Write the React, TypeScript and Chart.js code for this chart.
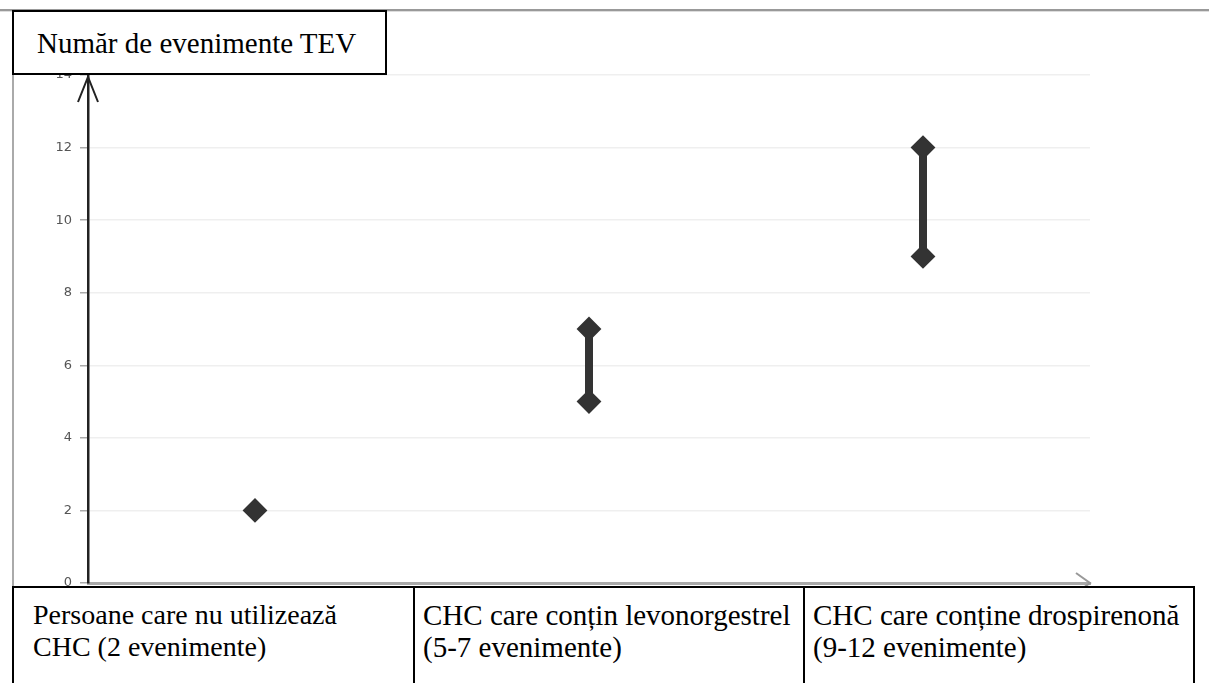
import React, { useEffect, useRef } from "react";
import { Chart, registerables } from "chart.js";

Chart.register(...registerables);

// ---- Data ----
const titleText = "Număr de evenimente TEV";
const categoryLines: string[][] = [
  ["Persoane care nu utilizează", "CHC (2 evenimente)"],
  ["CHC care conțin levonorgestrel", "(5-7 evenimente)"],
  ["CHC care conține drospirenonă", "(9-12 evenimente)"],
];
const categoryPositions = [0.5, 1.5, 2.5];
const lowValues = [2, 5, 9];
const highValues = [2, 7, 12];
const yMin = 0;
const yMax = 14;
const yStep = 2;

const DARK = "#333333";

const arrowPlugin = {
  id: "axisArrows",
  afterDraw(chart: any) {
    const { ctx, chartArea } = chart;
    const { left, right, top, bottom } = chartArea;
    ctx.save();
    // y axis arrow
    ctx.strokeStyle = "#222";
    ctx.lineWidth = 2;
    ctx.beginPath();
    ctx.moveTo(left - 10, top + 27);
    ctx.lineTo(left, top + 2);
    ctx.lineTo(left + 10, top + 27);
    ctx.stroke();
    // x axis arrow
    ctx.strokeStyle = "#999";
    ctx.lineWidth = 2;
    ctx.beginPath();
    ctx.moveTo(right - 14, bottom - 10);
    ctx.lineTo(right, bottom);
    ctx.lineTo(right - 14, bottom + 10);
    ctx.stroke();
    ctx.restore();
  },
};

function RangeChart() {
  const ref = useRef<HTMLCanvasElement | null>(null);
  useEffect(() => {
    if (!ref.current) return;
    const datasets = categoryPositions.map((x, i) => {
      const pts =
        lowValues[i] === highValues[i]
          ? [{ x, y: lowValues[i] }]
          : [
              { x, y: lowValues[i] },
              { x, y: highValues[i] },
            ];
      return {
        label: categoryLines[i].join(" "),
        data: pts,
        borderColor: DARK,
        backgroundColor: DARK,
        borderWidth: 8,
        pointStyle: "rectRot" as const,
        pointRadius: 11,
        pointBorderWidth: 2,
        pointBackgroundColor: DARK,
        pointBorderColor: DARK,
        showLine: true,
      };
    });
    const chart = new Chart(ref.current, {
      type: "scatter",
      data: { datasets },
      options: {
        animation: false,
        responsive: false,
        maintainAspectRatio: false,
        layout: { padding: { left: 0, right: 119, top: 75, bottom: 90 } },
        plugins: {
          legend: { display: false },
          tooltip: { enabled: false },
          title: { display: false },
        },
        scales: {
          x: {
            type: "linear",
            min: 0,
            max: 3,
            ticks: { display: false, stepSize: 1 },
            grid: { display: false },
            border: { display: true, color: "#aaaaaa", width: 3 },
            afterFit(s: any) {
              s.height = 10;
            },
          },
          y: {
            type: "linear",
            min: yMin,
            max: yMax,
            ticks: {
              stepSize: yStep,
              color: "#555",
              padding: 8,
              font: { family: "'DejaVu Sans', sans-serif", size: 13 },
            },
            grid: {
              color: "#efefef",
              tickColor: "#aaaaaa",
              tickLength: 8,
              lineWidth: 1.5,
            },
            border: { display: true, color: "#222", width: 2.5 },
            afterFit(s: any) {
              s.width = 88;
            },
          },
        },
      },
      plugins: [arrowPlugin],
    });
    return () => chart.destroy();
  }, []);
  return (
    <canvas
      ref={ref}
      width={1209}
      height={683}
      style={{ position: "absolute", left: 0, top: 0, width: 1209, height: 683 }}
    />
  );
}

const serif = "'Liberation Serif', 'Times New Roman', 'DejaVu Serif', serif";

const boxes = [
  { left: 12, right: 415, textLeft: 33, size: 28 },
  { left: 413, right: 805, textLeft: 423, size: 29 },
  { left: 803, right: 1195, textLeft: 813, size: 29 },
];

export default function App() {
  return (
    <div
      style={{
        position: "fixed",
        left: 0,
        top: 0,
        width: 1209,
        height: 683,
        overflow: "hidden",
        background: "#fff",
      }}
    >
      {/* screenshot frame lines */}
      <div style={{ position: "absolute", left: 0, top: 9, width: 1209, height: 2, background: "#999" }} />
      <div style={{ position: "absolute", left: 0, top: 11, width: 1209, height: 1, background: "#ddd" }} />
      <div style={{ position: "absolute", left: 12, top: 10, width: 2, height: 576, background: "#aaa" }} />
      <RangeChart />
      {/* title box */}
      <div
        style={{
          position: "absolute",
          left: 12,
          top: 10,
          width: 375,
          height: 65,
          boxSizing: "border-box",
          border: "2px solid #000",
          background: "#fff",
        }}
      />
      <div
        style={{
          position: "absolute",
          left: 37,
          top: 27,
          fontFamily: serif,
          fontSize: 29,
          lineHeight: "32px",
          color: "#000",
          whiteSpace: "nowrap",
        }}
      >
        {titleText}
      </div>
      {/* category boxes */}
      {boxes.map((b, i) => (
        <div
          key={"b" + i}
          style={{
            position: "absolute",
            left: b.left,
            top: 586,
            width: b.right - b.left,
            height: 110,
            boxSizing: "border-box",
            border: "2px solid #000",
            background: "#fff",
          }}
        />
      ))}
      {boxes.map((b, i) => (
        <div
          key={"t" + i}
          style={{
            position: "absolute",
            left: b.textLeft,
            top: 599,
            fontFamily: serif,
            fontSize: b.size,
            lineHeight: "32px",
            color: "#000",
            whiteSpace: "nowrap",
          }}
        >
          {categoryLines[i].map((l, j) => (
            <div key={j}>{l}</div>
          ))}
        </div>
      ))}
    </div>
  );
}
